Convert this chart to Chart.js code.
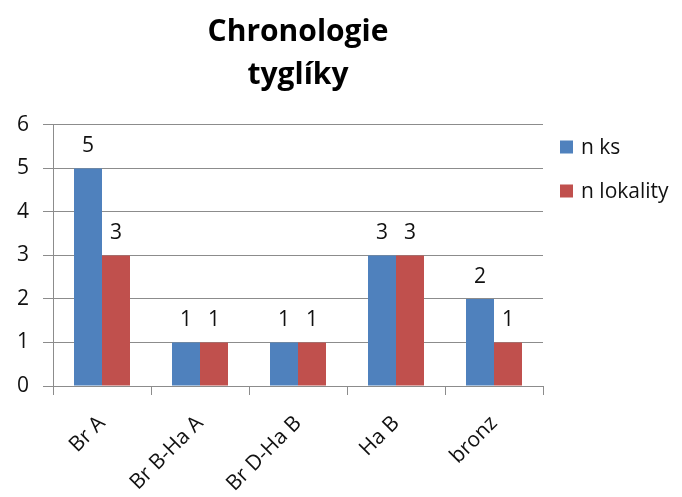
<!DOCTYPE html>
<html>
<head>
<meta charset="utf-8">
<script src="https://cdn.jsdelivr.net/npm/chart.js@4/dist/chart.umd.min.js"></script>
<style>
  html, body { margin: 0; padding: 0; background: #fff; }
  #wrap { width: 682px; height: 497px; }
</style>
</head>
<body>
<div id="wrap"><canvas id="c" width="682" height="497"></canvas></div>
<script>
// Chronology of crucibles: pieces vs. sites per period
const categories = ['Br A', 'Br B-Ha A', 'Br D-Ha B', 'Ha B', 'bronz'];
const nKs = [5, 1, 1, 3, 2];
const nLokality = [3, 1, 1, 3, 1];
const seriesNames = ['n ks', 'n lokality'];
const titleLines = ['Chronologie', 'tyglíky'];
const yTicks = [0, 1, 2, 3, 4, 5, 6];

const FONT = '"Open Sans", "Liberation Sans", sans-serif';
const BLUE = '#4F81BD';
const RED = '#C0504D';
const GRID = '#8c8c8c';

// value labels above each bar
const valueLabels = {
  id: 'valueLabels',
  afterDatasetsDraw(chart) {
    const ctx = chart.ctx;
    ctx.save();
    ctx.font = '21px ' + FONT;
    ctx.fillStyle = '#111';
    ctx.textAlign = 'center';
    ctx.textBaseline = 'middle';
    chart.data.datasets.forEach((ds, i) => {
      chart.getDatasetMeta(i).data.forEach((bar, j) => {
        ctx.fillText(String(ds.data[j]), bar.x, bar.y - 22);
      });
    });
    ctx.restore();
  }
};

// legend to the right of the plot
const sideLegend = {
  id: 'sideLegend',
  afterDraw(chart) {
    const ctx = chart.ctx;
    const x = chart.chartArea.right + 17;
    const y0 = 147, step = 44, box = 13;
    ctx.save();
    ctx.font = '21px ' + FONT;
    ctx.textBaseline = 'middle';
    ctx.textAlign = 'left';
    chart.data.datasets.forEach((ds, i) => {
      const y = y0 + i * step;
      ctx.fillStyle = ds.backgroundColor;
      ctx.fillRect(x, y - box / 2, box, box);
      ctx.fillStyle = '#111';
      ctx.fillText(ds.label, x + box + 8, y + 1);
    });
    ctx.restore();
  }
};

new Chart(document.getElementById('c'), {
  type: 'bar',
  data: {
    labels: categories,
    datasets: [
      { label: seriesNames[0], data: nKs, backgroundColor: BLUE },
      { label: seriesNames[1], data: nLokality, backgroundColor: RED }
    ]
  },
  options: {
    responsive: false,
    animation: false,
    layout: { padding: { left: 0, right: 139, top: 0, bottom: 0 } },
    datasets: {
      bar: { categoryPercentage: 2 / 3.5, barPercentage: 1, borderWidth: 0 }
    },
    plugins: {
      legend: { display: false },
      tooltip: { enabled: false },
      title: {
        display: true,
        fullSize: false,
        text: titleLines,
        color: '#000',
        font: { family: FONT, size: 30, weight: 'bold', lineHeight: 1.433 },
        padding: { top: 11, bottom: 28 }
      }
    },
    scales: {
      x: {
        grid: { display: true, offset: true, drawOnChartArea: false, color: GRID, tickLength: 9 },
        border: { color: GRID },
        ticks: {
          color: '#111',
          font: { family: FONT, size: 21 },
          minRotation: 45, maxRotation: 45,
          padding: 16
        },
        afterFit(scale) { scale.height = 111; }
      },
      y: {
        min: 0, max: 6,
        afterBuildTicks(scale) { scale.ticks = yTicks.map(v => ({ value: v })); },
        grid: { color: GRID, tickLength: 10 },
        border: { color: GRID },
        ticks: {
          color: '#111',
          font: { family: FONT, size: 21 },
          padding: 14
        },
        afterFit(scale) { scale.width = 53; }
      }
    }
  },
  plugins: [valueLabels, sideLegend]
});
</script>
</body>
</html>
